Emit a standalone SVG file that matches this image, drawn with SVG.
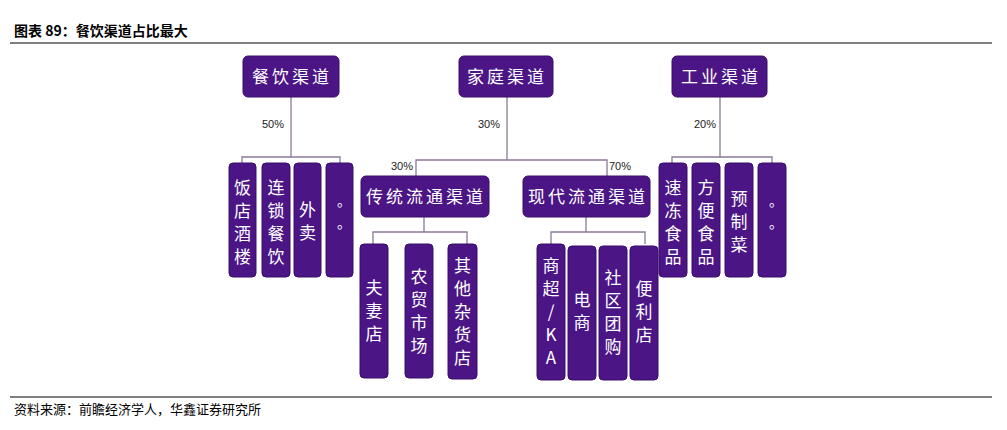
<svg xmlns="http://www.w3.org/2000/svg" width="1007" height="430" viewBox="0 0 1007 430">
<style>
.n{fill:#4b1586;stroke:#3a0f6a;stroke-width:1}
.t{fill:#fff;font-family:"Noto Sans CJK SC",sans-serif;font-size:17px;text-anchor:middle}
.o{fill:#fff;font-family:"Noto Sans CJK SC",sans-serif;font-size:14px;text-anchor:middle}
.h{fill:#fff;font-family:"Noto Sans CJK SC",sans-serif;font-size:17px;text-anchor:middle;letter-spacing:3px}
.p{fill:#222;font-family:"Liberation Sans",sans-serif;font-size:11px;text-anchor:middle}
.c{fill:none;stroke:#8a7a99;stroke-width:1.3}
.hd{font-family:"Noto Sans CJK SC",sans-serif;fill:#000}
</style>
<rect width="1007" height="430" fill="#fff"/>
<text class="hd" x="14" y="36" font-size="14" font-weight="bold">图表 89：餐饮渠道占比最大</text>
<line x1="10" y1="43" x2="992" y2="43" stroke="#000" stroke-width="1.2"/>
<line x1="10" y1="397" x2="992" y2="397" stroke="#000" stroke-width="1"/>
<text class="hd" x="14" y="414" font-size="13">资料来源：前瞻经济学人，华鑫证券研究所</text>
<g id="connectors">
<path class="c" d="M291 96V157M242 164V157H340V164"/>
<path class="c" d="M507 96V160M416 176V160H607V176"/>
<path class="c" d="M720 96V157M672 164V157H772V164"/>
<path class="c" d="M424 216V232M373 244V232H467V244"/>
<path class="c" d="M586 216V232M551 244V232H645V244"/>
<text class="p" x="273" y="128">50%</text>
<text class="p" x="489" y="128">30%</text>
<text class="p" x="705" y="128">20%</text>
<text class="p" x="402" y="170">30%</text>
<text class="p" x="620" y="170">70%</text>
</g>
<g id="n1"><rect class="n" x="243" y="56" width="96" height="41" rx="5"/><text class="h" x="292" y="83">餐饮渠道</text></g>
<g id="n2"><rect class="n" x="459" y="56" width="94" height="41" rx="5"/><text class="h" x="507" y="83">家庭渠道</text></g>
<g id="n3"><rect class="n" x="672" y="56" width="95" height="41" rx="5"/><text class="h" x="721" y="83">工业渠道</text></g>
<g id="n4"><rect class="n" x="361" y="176" width="128" height="41" rx="5"/><text class="h" x="426" y="203">传统流通渠道</text></g>
<g id="n5"><rect class="n" x="523" y="176" width="127" height="41" rx="5"/><text class="h" x="588" y="203">现代流通渠道</text></g>
<g id="a1"><rect class="n" x="229" y="163" width="27" height="114" rx="4"/><text class="t" x="242.5" y="194">饭<tspan x="242.5" dy="23">店</tspan><tspan x="242.5" dy="23">酒</tspan><tspan x="242.5" dy="23">楼</tspan></text></g>
<g id="a2"><rect class="n" x="262" y="163" width="28" height="114" rx="4"/><text class="t" x="276" y="194">连<tspan x="276" dy="23">锁</tspan><tspan x="276" dy="23">餐</tspan><tspan x="276" dy="23">饮</tspan></text></g>
<g id="a3"><rect class="n" x="294" y="163" width="27" height="114" rx="4"/><text class="t" x="307.5" y="216">外<tspan x="307.5" dy="23">卖</tspan></text></g>
<g id="a4"><rect class="n" x="326" y="163" width="27" height="114" rx="4"/><text class="o" x="344" y="206">。</text><text class="o" x="344" y="228">。</text></g>
<g id="b1"><rect class="n" x="360" y="244" width="28" height="134" rx="4"/><text class="t" x="374" y="294">夫<tspan x="374" dy="23">妻</tspan><tspan x="374" dy="23">店</tspan></text></g>
<g id="b2"><rect class="n" x="405" y="244" width="28" height="134" rx="4"/><text class="t" x="419" y="283">农<tspan x="419" dy="23">贸</tspan><tspan x="419" dy="23">市</tspan><tspan x="419" dy="23">场</tspan></text></g>
<g id="b3"><rect class="n" x="448" y="244" width="29" height="135" rx="4"/><text class="t" x="462.5" y="272">其<tspan x="462.5" dy="23">他</tspan><tspan x="462.5" dy="23">杂</tspan><tspan x="462.5" dy="23">货</tspan><tspan x="462.5" dy="23">店</tspan></text></g>
<g id="c1"><rect class="n" x="537" y="244" width="28" height="136" rx="4"/><text class="t" x="551" y="272">商<tspan x="551" dy="23">超</tspan><tspan x="551" dy="23">/</tspan><tspan x="551" dy="23">K</tspan><tspan x="551" dy="23">A</tspan></text></g>
<g id="c2"><rect class="n" x="568" y="246" width="28" height="134" rx="4"/><text class="t" x="582" y="306">电<tspan x="582" dy="23">商</tspan></text></g>
<g id="c3"><rect class="n" x="599" y="246" width="28" height="134" rx="4"/><text class="t" x="613" y="284">社<tspan x="613" dy="23">区</tspan><tspan x="613" dy="23">团</tspan><tspan x="613" dy="23">购</tspan></text></g>
<g id="c4"><rect class="n" x="630" y="246" width="28" height="134" rx="4"/><text class="t" x="644" y="295">便<tspan x="644" dy="23">利</tspan><tspan x="644" dy="23">店</tspan></text></g>
<g id="d1"><rect class="n" x="659" y="163" width="28" height="114" rx="4"/><text class="t" x="673" y="194">速<tspan x="673" dy="23">冻</tspan><tspan x="673" dy="23">食</tspan><tspan x="673" dy="23">品</tspan></text></g>
<g id="d2"><rect class="n" x="692" y="163" width="28" height="114" rx="4"/><text class="t" x="706" y="194">方<tspan x="706" dy="23">便</tspan><tspan x="706" dy="23">食</tspan><tspan x="706" dy="23">品</tspan></text></g>
<g id="d3"><rect class="n" x="725" y="163" width="28" height="114" rx="4"/><text class="t" x="739" y="205">预<tspan x="739" dy="23">制</tspan><tspan x="739" dy="23">菜</tspan></text></g>
<g id="d4"><rect class="n" x="758" y="163" width="28" height="114" rx="4"/><text class="o" x="776" y="206">。</text><text class="o" x="776" y="228">。</text></g>
</svg>
